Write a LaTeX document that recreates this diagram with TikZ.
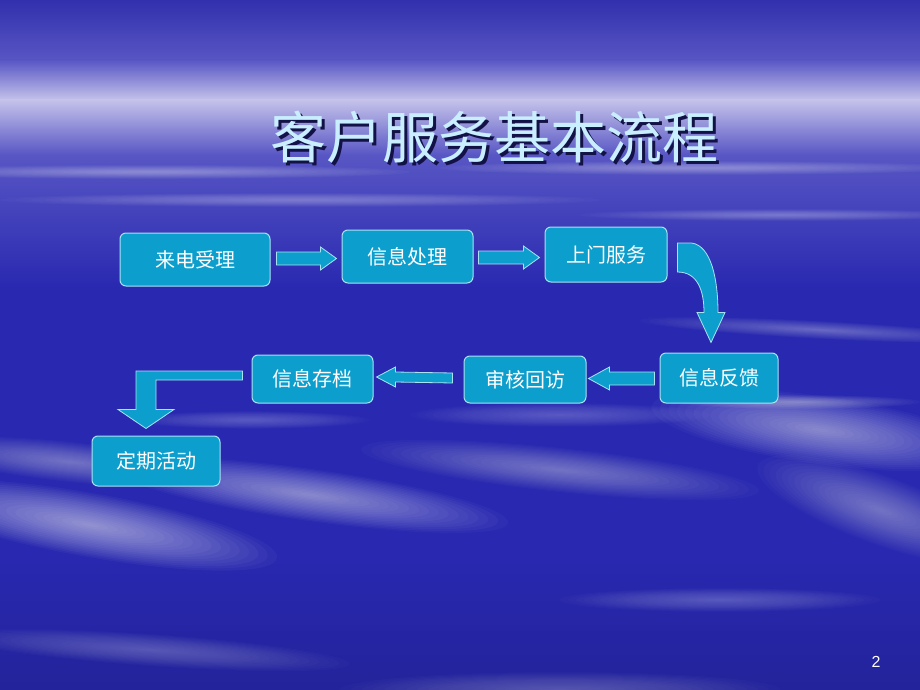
\documentclass[tikz,border=0pt]{standalone}
\usepackage{fontspec}
\newfontfamily\cjk{Noto Sans CJK SC}
\setmainfont{Liberation Sans}
\usetikzlibrary{calc}
\definecolor{bgblue}{RGB}{40,40,176}
\definecolor{bgtop}{RGB}{50,48,172}
\definecolor{bgmid}{RGB}{88,86,196}
\definecolor{bgband}{RGB}{196,194,234}
\definecolor{boxfill}{RGB}{12,158,204}
\definecolor{boxline}{RGB}{170,226,245}
\definecolor{titlecol}{RGB}{200,238,255}
\definecolor{shadowcol}{RGB}{18,18,70}
\tikzset{
  flowbox/.style={draw=boxline, line width=1pt, fill=boxfill, rounded corners=6pt,
    text=white, font=\cjk\fontsize{20}{24}\selectfont, inner sep=0pt},
  blockarrow/.style={draw=boxline, line width=0.8pt, fill=boxfill, line join=miter}
}
% soft cloud: x, y, rx, ry, rotation, opacity per layer
\newcommand\softcloud[6]{%
  \foreach \k in {1,...,20}{%
    \fill[white, opacity=#6, rotate around={#5:(#1,#2)}] (#1,#2) ellipse ({#3*\k/20} and {#4*\k/20});
  }}
\begin{document}
\begin{tikzpicture}[x=1pt,y=-1pt]
\useasboundingbox (0,0) rectangle (920,690);
% background
\fill[bgblue] (0,0) rectangle (920,690);
\shade[top color=bgtop, bottom color=bgmid] (0,0) rectangle (920,60);
\shade[top color=bgmid, bottom color=bgband] (0,60) rectangle (920,100);
\shade[top color=bgband, bottom color=bgmid] (0,100) rectangle (920,155);
\shade[top color=bgmid, bottom color=bgblue] (0,155) rectangle (920,290);
\shade[top color=bgblue, bottom color=bgblue!88!black] (0,560) rectangle (920,690);
% horizontal streaks in upper part
\softcloud{150}{172}{260}{7}{0}{0.025}
\softcloud{700}{168}{260}{7}{0}{0.025}
\softcloud{300}{200}{300}{7}{0}{0.02}
\softcloud{780}{215}{200}{6}{0}{0.02}
\softcloud{820}{330}{180}{9}{-3}{0.02}
\softcloud{800}{402}{120}{7}{0}{0.025}
% clouds in lower part
\softcloud{70}{462}{150}{20}{-6}{0.025}
\softcloud{90}{525}{190}{32}{-10}{0.035}
\softcloud{310}{495}{200}{26}{-8}{0.03}
\softcloud{560}{470}{200}{22}{-6}{0.025}
\softcloud{820}{430}{170}{34}{-8}{0.03}
\softcloud{880}{510}{130}{34}{-20}{0.025}
\softcloud{560}{415}{150}{12}{0}{0.015}
\softcloud{250}{420}{120}{9}{0}{0.015}
\softcloud{150}{650}{200}{16}{-4}{0.015}
\softcloud{560}{690}{220}{18}{0}{0.015}
\softcloud{720}{600}{160}{12}{0}{0.015}
% title (with its shadow)
\node (title) at (494,139) {\cjk\fontsize{56}{62}\selectfont\rlap{\raisebox{-3pt}{\kern3pt\color{shadowcol}客户服务基本流程}}\color{titlecol}客户服务基本流程};
% boxes
\node[flowbox, minimum width=150pt, minimum height=53pt] (n1) at (195,259.5) {来电受理};
\node[flowbox, minimum width=131pt, minimum height=53pt] (n2) at (407.5,256.5) {信息处理};
\node[flowbox, minimum width=122pt, minimum height=55pt] (n3) at (606,254.5) {上门服务};
\node[flowbox, minimum width=118pt, minimum height=50pt] (n4) at (719,378) {信息反馈};
\node[flowbox, minimum width=122pt, minimum height=47pt] (n5) at (525,379.5) {审核回访};
\node[flowbox, minimum width=121pt, minimum height=48pt] (n6) at (312.5,379) {信息存档};
\node[flowbox, minimum width=128pt, minimum height=50pt] (n7) at (156,461) {定期活动};
% arrow n1 -> n2
\coordinate (a1s) at ($(n1.east)+(6,-1)$);
\coordinate (a1e) at ($(n2.west)+(-5,2)$);
\draw[blockarrow] ($(a1s)+(0,-6.5)$) -- ($(a1e)+(-16,-6.5)$) -- ($(a1e)+(-16,-11.5)$) -- (a1e)
  -- ($(a1e)+(-16,11.5)$) -- ($(a1e)+(-16,6.5)$) -- ($(a1s)+(0,6.5)$) -- cycle;
% arrow n2 -> n3
\coordinate (a2s) at ($(n2.east)+(5,1)$);
\coordinate (a2e) at ($(n3.west)+(-5,3)$);
\draw[blockarrow] ($(a2s)+(0,-6.5)$) -- ($(a2e)+(-16,-6.5)$) -- ($(a2e)+(-16,-11.5)$) -- (a2e)
  -- ($(a2e)+(-16,11.5)$) -- ($(a2e)+(-16,6.5)$) -- ($(a2s)+(0,6.5)$) -- cycle;
% curved arrow n3 -> n4
\coordinate (c0) at ($(n3.east)+(10,0)$);
\coordinate (ctip) at ($(n4.north)+(-8,-10)$);
\draw[blockarrow] ($(c0)+(0,-11.5)$) -- ($(c0)+(14,-11.5)$)
  .. controls ($(c0)+(34,-9)$) and ($(ctip)+(7,-62)$) .. ($(ctip)+(7,-30)$)
  -- ($(ctip)+(14,-30)$) -- (ctip) -- ($(ctip)+(-14,-30)$) -- ($(ctip)+(-7,-30)$)
  .. controls ($(ctip)+(-7,-52)$) and ($(c0)+(20,17.5)$) .. ($(c0)+(0,17.5)$) -- cycle;
% arrow n4 -> n5
\coordinate (a4s) at ($(n4.west)+(-5,0.5)$);
\coordinate (a4e) at ($(n5.east)+(2,-1)$);
\draw[blockarrow] ($(a4s)+(0,-6.5)$) -- ($(a4e)+(21,-6.5)$) -- ($(a4e)+(21,-11.5)$) -- (a4e)
  -- ($(a4e)+(21,11.5)$) -- ($(a4e)+(21,6.5)$) -- ($(a4s)+(0,6.5)$) -- cycle;
% arrow n5 -> n6
\coordinate (a5s) at ($(n5.west)+(-11,-1.5)$);
\coordinate (a5e) at ($(n6.east)+(3,-2)$);
\draw[blockarrow] ($(a5s)+(0,-5)$) -- ($(a5e)+(19,-5)$) -- ($(a5e)+(19,-10)$) -- (a5e)
  -- ($(a5e)+(19,10)$) -- ($(a5e)+(19,5)$) -- ($(a5s)+(0,5)$) -- cycle;
% bent arrow n6 -> n7
\coordinate (b0) at ($(n6.west)+(-9,-3.5)$);
\coordinate (btip) at ($(n7.north)+(-10,-7)$);
\draw[blockarrow] ($(b0)+(0,-4.5)$) -- ($(btip |- b0)+(-10,-4.5)$) -- ($(btip)+(-10,-19)$)
  -- ($(btip)+(-28,-19)$) -- (btip) -- ($(btip)+(28,-19)$) -- ($(btip)+(10,-19)$)
  -- ($(btip |- b0)+(10,4.5)$) -- ($(b0)+(0,4.5)$) -- cycle;
% page number
\node[text=white, font=\fontsize{16}{18}\selectfont] (pagenum) at (876,662) {2};
\end{tikzpicture}
\end{document}
